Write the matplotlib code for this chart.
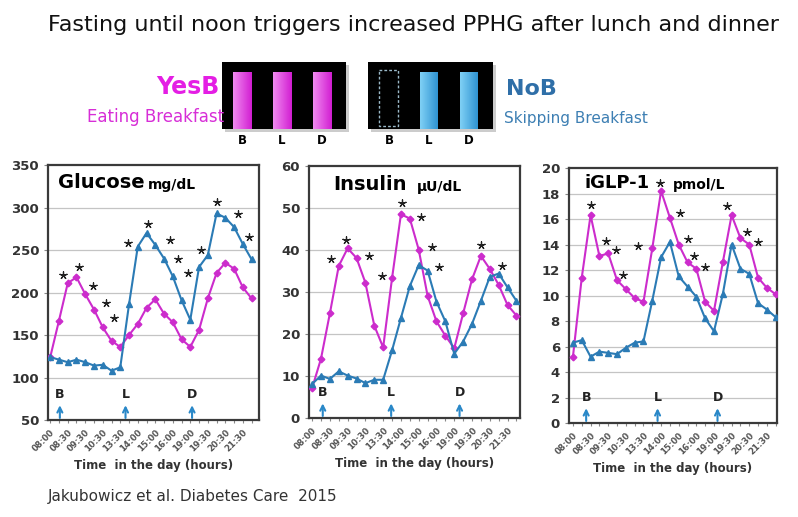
#!/usr/bin/env python3

import numpy as np
import matplotlib
matplotlib.use('Agg')
import matplotlib.pyplot as plt
from matplotlib.patches import Rectangle
from matplotlib.colors import LinearSegmentedColormap
from matplotlib import transforms

# x axis: 24 samples over the day, a label on every other one
tick_labels = ['08:00', '08:30', '09:30', '10:30', '13:30', '14:00',
               '15:00', '16:00', '19:00', '19:30', '20:30', '21:30']

# Glucose mg/dL
glucose_yesb = [124, 167, 211, 218, 198, 180, 159, 143, 136, 150, 163, 182,
                192, 175, 165, 145, 136, 156, 193, 223, 235, 228, 206, 193]
glucose_nob = [124, 121, 118, 121, 118, 114, 115, 108, 112, 186, 254, 270,
               256, 240, 219, 191, 168, 230, 244, 293, 288, 277, 257, 239]
glucose_star_x = [1.5, 3.3, 4.9, 6.4, 7.3, 8.9, 11.2, 13.7, 14.6, 15.7, 17.2, 19.1, 21.4, 22.7]
glucose_star_y = [221, 230, 208, 188, 170, 258, 281, 262, 240, 223, 250, 307, 292, 265]

# Insulin uU/dL
insulin_yesb = [7.1, 14.1, 24.9, 36.2, 40.4, 38.1, 32.2, 22.0, 16.8, 33.3, 48.5, 47.5,
                40.1, 29.1, 23.0, 19.6, 16.6, 24.9, 33.0, 38.6, 35.5, 31.7, 26.9, 24.4]
insulin_nob = [8.1, 10.1, 9.3, 11.1, 10.1, 9.4, 8.3, 9.1, 9.1, 16.1, 23.8, 31.4,
               36.4, 35.1, 27.7, 23.0, 15.3, 18.2, 22.4, 27.9, 33.6, 34.4, 31.1, 27.9]
insulin_star_x = [2.1, 3.8, 6.4, 7.9, 10.1, 12.3, 13.5, 14.3, 19.0, 21.4]
insulin_star_y = [37.8, 42.5, 38.6, 33.8, 51.1, 47.9, 40.6, 35.9, 41.2, 36.2]

# iGLP-1 pmol/L
glp_yesb = [5.2, 11.4, 16.3, 13.1, 13.3, 11.2, 10.5, 9.8, 9.5, 13.7, 18.2, 16.1,
            14.0, 12.6, 12.1, 9.5, 8.8, 12.6, 16.3, 14.5, 14.0, 11.4, 10.6, 10.1]
glp_nob = [6.3, 6.5, 5.2, 5.6, 5.5, 5.4, 5.9, 6.3, 6.4, 9.6, 13.0, 14.2,
           11.5, 10.7, 9.9, 8.2, 7.2, 10.1, 14.0, 12.1, 11.7, 9.4, 8.9, 8.3]
glp_star_x = [2.0, 3.7, 4.9, 5.7, 7.4, 9.9, 12.2, 13.0, 13.75, 15.0, 17.5, 19.7, 21.0]
glp_star_y = [17.1, 14.3, 13.6, 11.6, 13.9, 18.8, 16.5, 14.4, 13.1, 12.2, 17.0, 15.0, 14.2]

meals = ['B', 'L', 'D']

PINK = '#cc2ccc'
BLUE = '#2b7bb5'
ARROW = '#2a88c8'


def draw_panel(ax, yesb, nob, star_x, star_y, ylim, yticks, xlim, meal_x,
               name, unit, name_size, gap):
    x = np.arange(len(yesb))
    for t in yticks[1:-1]:
        ax.axhline(t, color='#c4c4c4', lw=0.9, zorder=0)
    ax.plot(x, yesb, color=PINK, lw=1.5, marker='D', ms=3.4, zorder=3)
    ax.plot(x, nob, color=BLUE, lw=1.5, marker='^', ms=4.4, zorder=3)
    ax.scatter(star_x, star_y, marker=(5, 2, 0), s=28, c='#222222',
               linewidths=0.9, zorder=4)

    ax.set_xlim(*xlim)
    ax.set_ylim(*ylim)
    ax.set_yticks(yticks)
    ax.set_xticks(x)
    labels = [''] * len(x)
    labels[::2] = tick_labels
    ax.set_xticklabels(labels, rotation=45, ha='right', rotation_mode='anchor',
                       fontsize=6.2, fontweight='bold', color='#555555')
    ax.tick_params(axis='x', length=2.5, color='#888888', pad=3)
    ax.tick_params(axis='y', length=3, color='#888888', labelsize=9.5,
                   labelcolor='#333333')
    for lab in ax.get_yticklabels():
        lab.set_fontweight('bold')
    for sp in ax.spines.values():
        sp.set_color('#3a3a3a')
        sp.set_linewidth(1.6)
    ax.set_xlabel('Time  in the day (hours)', fontsize=8.5, fontweight='bold',
                  color='#333333', labelpad=4)

    # meal markers: letter plus small arrow near the bottom
    trans = transforms.blended_transform_factory(ax.transData, ax.transAxes)
    for m, mx in zip(meals, meal_x):
        ax.text(mx, 0.1, m, transform=trans, ha='center', va='center',
                fontsize=9, fontweight='bold', color='#222222')
        ax.annotate('', xy=(mx, 0.058), xytext=(mx, 0.008),
                    xycoords=trans, textcoords=trans,
                    arrowprops=dict(arrowstyle='->', color=ARROW, lw=1.5,
                                    mutation_scale=9, shrinkA=0, shrinkB=0))

    t1 = ax.text(name[1], name[2], name[0], transform=ax.transAxes,
                 fontsize=name_size, fontweight='bold', va='center', ha='left')
    ax.annotate(unit, xy=(1, 0), xycoords=t1, xytext=(gap, 0),
                textcoords='offset points', fontsize=10, fontweight='bold',
                va='bottom', ha='left')


fig = plt.figure(figsize=(7.98, 5.17), dpi=100)

ax1 = fig.add_axes([0.0602, 0.1876, 0.2644, 0.4932])
ax2 = fig.add_axes([0.3872, 0.1915, 0.2644, 0.4874])
ax3 = fig.add_axes([0.7130, 0.1818, 0.2607, 0.4932])

draw_panel(ax1, glucose_yesb, glucose_nob, glucose_star_x, glucose_star_y,
           (50, 350), list(range(50, 351, 50)), (-0.25, 23.85), [1.1, 8.6, 16.2],
           ('Glucose', 0.045, 0.93), 'mg/dL', 14, 3)
draw_panel(ax2, insulin_yesb, insulin_nob, insulin_star_x, insulin_star_y,
           (0, 60), list(range(0, 61, 10)), (-0.35, 23.4), [1.2, 8.9, 16.6],
           ('Insulin', 0.115, 0.925), '\u03bcU/dL', 14, 7)
draw_panel(ax3, glp_yesb, glp_nob, glp_star_x, glp_star_y,
           (0, 20), list(range(0, 21, 2)), (-0.45, 23.15), [1.5, 9.6, 16.4],
           ('iGLP-1', 0.075, 0.94), 'pmol/L', 13, 17)

fig.text(413 / 798, 1 - 25 / 517, 'Fasting until noon triggers increased PPHG after lunch and dinner',
         ha='center', va='center', fontsize=16, color='#111111')
fig.text(48 / 798, 1 - 497 / 517, 'Jakubowicz et al. Diabetes Care  2015',
         ha='left', va='center', fontsize=11, color='#333333')

# meal-pattern sketch between title and panels (pixel coordinates)
lg = fig.add_axes([0, 0, 1, 1], zorder=-1)
lg.set_xlim(0, 798)
lg.set_ylim(517, 0)
lg.axis('off')

pink_cmap = LinearSegmentedColormap.from_list('p', ['#f08af0', '#d21ed2'])
blue_cmap = LinearSegmentedColormap.from_list('b', ['#7fd0f5', '#2f93d2'])
grad = np.linspace(0, 1, 40)[None, :]

for bx0, bx1 in [(222, 346), (368, 493)]:
    lg.add_patch(Rectangle((bx0 + 3, 65), bx1 - bx0, 67, color='#9a9a9a', alpha=0.5, lw=0))
    lg.add_patch(Rectangle((bx0, 62), bx1 - bx0, 67, color='black', lw=0))

for x0 in [233, 273, 313]:
    lg.imshow(grad, cmap=pink_cmap, extent=(x0, x0 + 19, 129, 72), aspect='auto', zorder=3)
for x0 in [420, 460]:
    lg.imshow(grad, cmap=blue_cmap, extent=(x0, x0 + 18, 129, 72), aspect='auto', zorder=3)
lg.add_patch(Rectangle((379, 70), 19, 56, fill=False, ec='#9ab8c8', lw=1, ls=(0, (2, 1.5)), zorder=3))

for m, mx in zip(meals, [242, 282, 322]):
    lg.text(mx, 140, m, ha='center', va='center', fontsize=8.5, fontweight='bold')
for m, mx in zip(meals, [389, 429, 469]):
    lg.text(mx, 140, m, ha='center', va='center', fontsize=8.5, fontweight='bold')

lg.text(219, 87, 'YesB', ha='right', va='center', fontsize=17, fontweight='bold', color='#e41ee4')
lg.text(224, 117, 'Eating Breakfast', ha='right', va='center', fontsize=12, color='#d72ed7')
lg.text(506, 89, 'NoB', ha='left', va='center', fontsize=16, fontweight='bold', color='#2f6fa8')
lg.text(504, 119, 'Skipping Breakfast', ha='left', va='center', fontsize=11, color='#3d7fb3')
lg.set_xlim(0, 798)
lg.set_ylim(517, 0)

fig.savefig('out.png', dpi=100)
